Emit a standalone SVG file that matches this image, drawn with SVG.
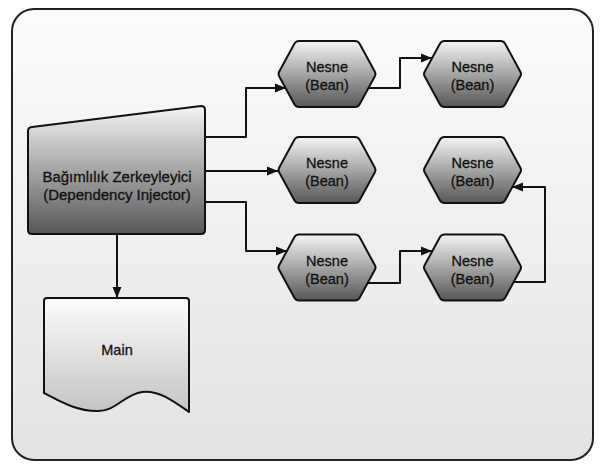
<svg xmlns="http://www.w3.org/2000/svg" width="600" height="470" viewBox="0 0 600 470">
<defs>
<linearGradient id="gFrame" x1="0" y1="0" x2="0" y2="1"><stop offset="0" stop-color="#fbfbfb"/><stop offset="1" stop-color="#e3e3e3"/></linearGradient>
<linearGradient id="gDark" x1="0" y1="0" x2="0" y2="1"><stop offset="0" stop-color="#f4f4f4"/><stop offset="1" stop-color="#575757"/></linearGradient>
<linearGradient id="gMain" x1="0" y1="0" x2="0" y2="1"><stop offset="0" stop-color="#fcfcfc"/><stop offset="1" stop-color="#c4c4c4"/></linearGradient>
<marker id="arr" markerUnits="userSpaceOnUse" markerWidth="12" markerHeight="10" refX="11" refY="5" orient="auto"><path d="M0,0.5 L11,5 L0,9.5 z" fill="#111"/></marker>
<path id="hex" d="M-48,-2 L-32.5,-30.5 Q-31,-33 -28,-33 H28 Q31,-33 32.5,-30.5 L48,-2 Q49,0 48,2 L32.5,30.5 Q31,33 28,33 H-28 Q-31,33 -32.5,30.5 L-48,2 Q-49,0 -48,-2 z"/>
</defs>
<style>
.shape{stroke:#111;stroke-width:2;stroke-linejoin:round}
.hex{fill:url(#gDark)}
.conn{fill:none;stroke:#111;stroke-width:2;stroke-linejoin:round;marker-end:url(#arr)}
text{font-family:"Liberation Sans",Arial,sans-serif;font-size:14.5px;fill:#111;stroke:#111;stroke-width:0.3;text-anchor:middle}
</style>
<rect width="600" height="470" fill="#ffffff"/>
<g id="frame"><rect x="12" y="9" width="581" height="451" rx="22" fill="url(#gFrame)" stroke="#222" stroke-width="2"/></g>
<g id="connectors">
<path class="conn" d="M205,137 H246 V88 H286"/>
<path class="conn" d="M205,171 H278"/>
<path class="conn" d="M205,202 H246 V251 H287"/>
<path class="conn" d="M117,234 V298"/>
<path class="conn" d="M368,88 H400 V58 H432"/>
<path class="conn" d="M367,283 H400 V251 H432"/>
<path class="conn" d="M513,282 H545 V187 H512"/>
</g>
<g id="injector">
<path class="shape" fill="url(#gDark)" d="M32,127 L201,106 Q205,106 205,110 V230 Q205,234 201,234 H32 Q28,234 28,230 V131 Q28,127.5 32,127 z"/>
<text x="117" y="182" style="font-size:15px">Bağımlılık Zerkeyleyici</text>
<text x="117" y="200" style="font-size:15px">(Dependency Injector)</text>
</g>
<g id="main">
<path class="shape" fill="url(#gMain)" d="M47,298 H186 Q189,298 189,301 V412 C172,400 158,390 142,392 C125,394 115,412 97,411 C75,411 58,400 44,393 V301 Q44,298 47,298 z"/>
<text x="117" y="355">Main</text>
</g>
<g id="bean1" transform="translate(327,74)"><use href="#hex" class="shape hex"/><text x="0" y="-2">Nesne</text><text x="0" y="16">(Bean)</text></g>
<g id="bean2" transform="translate(472.5,74)"><use href="#hex" class="shape hex"/><text x="0" y="-2">Nesne</text><text x="0" y="16">(Bean)</text></g>
<g id="bean3" transform="translate(327,170)"><use href="#hex" class="shape hex"/><text x="0" y="-2">Nesne</text><text x="0" y="16">(Bean)</text></g>
<g id="bean4" transform="translate(472.5,170)"><use href="#hex" class="shape hex"/><text x="0" y="-2">Nesne</text><text x="0" y="16">(Bean)</text></g>
<g id="bean5" transform="translate(327,267.5)"><use href="#hex" class="shape hex"/><text x="0" y="-2">Nesne</text><text x="0" y="16">(Bean)</text></g>
<g id="bean6" transform="translate(472.5,267.5)"><use href="#hex" class="shape hex"/><text x="0" y="-2">Nesne</text><text x="0" y="16">(Bean)</text></g>
</svg>
